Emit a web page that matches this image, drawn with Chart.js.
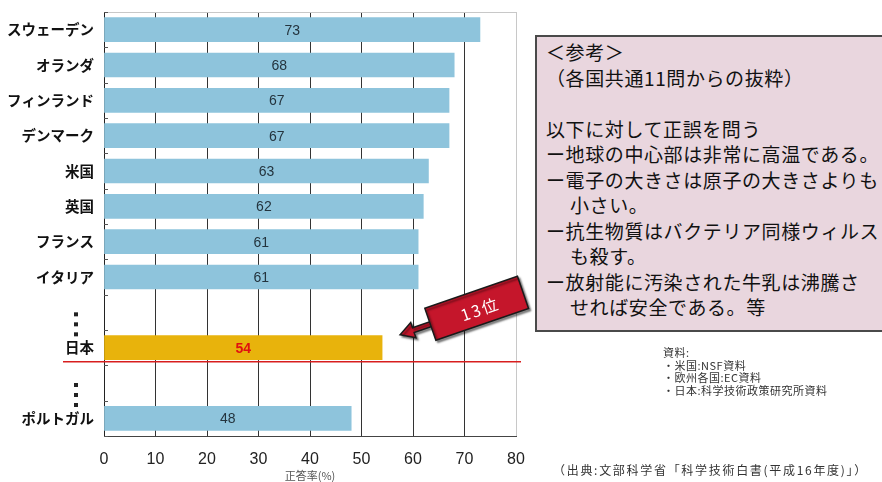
<!DOCTYPE html>
<html lang="ja">
<head>
<meta charset="utf-8">
<script src="https://cdn.jsdelivr.net/npm/chart.js@4.4.1/dist/chart.umd.min.js"></script>
<style>
 body { margin:0; width:882px; height:482px; overflow:hidden; background:#fff; font-family:"Noto Sans CJK JP", sans-serif; position:relative; }
 #chart { position:absolute; left:0; top:0; }
 #note { position:absolute; left:535px; top:35px; width:360px; height:297px; box-sizing:border-box; background:#e9d6de; border:2px solid #4a4a4a; padding-top:2px; padding-left:9px; font-size:19px; line-height:25.5px; letter-spacing:0.6px; color:#111; white-space:nowrap; }
 #note .ind { padding-left:24px; }
 #src { position:absolute; left:663px; top:346px; font-size:11px; line-height:12.5px; letter-spacing:0.5px; color:#333; white-space:nowrap; }
 #cite { position:absolute; left:553px; top:462px; font-size:12px; line-height:16px; letter-spacing:1.7px; color:#333; white-space:nowrap; }
</style>
</head>
<body>
<canvas id="chart" width="882" height="482"></canvas>
<div id="note">
 <div>＜参考＞</div>
 <div>（各国共通11問からの抜粋）</div>
 <div>&nbsp;</div>
 <div>以下に対して正誤を問う</div>
 <div>ー地球の中心部は非常に高温である。</div>
 <div>ー電子の大きさは原子の大きさよりも</div>
 <div class="ind">小さい。</div>
 <div>ー抗生物質はバクテリア同様ウィルス</div>
 <div class="ind">も殺す。</div>
 <div>ー放射能に汚染された牛乳は沸騰さ</div>
 <div class="ind">せれば安全である。等</div>
</div>
<div id="src">
 <div>資料:</div>
 <div>・米国:NSF資料</div>
 <div>・欧州各国:EC資料</div>
 <div>・日本:科学技術政策研究所資料</div>
</div>
<div id="cite">（出典:文部科学省「科学技術白書(平成16年度)」）</div>
<script>
const countries = ["スウェーデン", "オランダ", "フィンランド", "デンマーク", "米国", "英国", "フランス", "イタリア", "", "日本", "", "ポルトガル"];
const rates = [73, 68, 67, 67, 63, 62, 61, 61, null, 54, null, 48];
const gapRows = [8, 10];
const japanRow = 9;
const xTicks = [0, 10, 20, 30, 40, 50, 60, 70, 80];
const axisTitle = "正答率(%)";
const rankText = "13位";

const blue = "#8ec4dc";
const gold = "#e8b30c";
const numFont = "'Liberation Sans Narrow', 'Liberation Sans', Arial, sans-serif";

const decor = {
 id: "decor",
 afterDatasetsDraw(chart) {
 const ctx = chart.ctx;
 const area = chart.chartArea;
 const x = chart.scales.x;
 const y = chart.scales.y;
 const band = y.getPixelForValue(1) - y.getPixelForValue(0);
 ctx.save();
 // top frame
 ctx.strokeStyle = "#c8c8c8";
 ctx.lineWidth = 1;
 ctx.beginPath();
 ctx.moveTo(area.left, area.top + 0.5);
 ctx.lineTo(area.right, area.top + 0.5);
 ctx.stroke();
 // small tick marks on the category axis
 ctx.strokeStyle = "#555";
 for (let i = 0; i <= countries.length; i++) {
 const py = Math.round(y.getPixelForValue(i) - band / 2) + 0.5;
 ctx.beginPath();
 ctx.moveTo(area.left, py);
 ctx.lineTo(area.left + 4, py);
 ctx.stroke();
 }
 // value labels
 const meta = chart.getDatasetMeta(0);
 ctx.textAlign = "center";
 ctx.textBaseline = "middle";
 meta.data.forEach((bar, i) => {
 if (rates[i] == null) return;
 const jp = i === japanRow;
 ctx.fillStyle = jp ? "#e01010" : "#24343e";
 ctx.font = (jp ? "bold " : "") + "14px " + numFont;
 ctx.fillText(String(rates[i]), (bar.x + bar.base) / 2, bar.y + 1);
 });
 // vertical dots for skipped ranks
 ctx.fillStyle = "#222";
 gapRows.forEach(r => {
 const cy = y.getPixelForValue(r);
 [2, 12, 22].forEach(o => ctx.fillRect(74, cy + o - 2, 4, 4));
 });
 // red line under Japan
 const jy = y.getPixelForValue(japanRow) + 14;
 ctx.strokeStyle = "#d81e1e";
 ctx.lineWidth = 1.5;
 ctx.beginPath();
 ctx.moveTo(63, jy);
 ctx.lineTo(521, jy);
 ctx.stroke();
 // rank callout arrow
 const tipX = x.getPixelForValue(rates[japanRow]) + 18;
 const tipY = y.getPixelForValue(japanRow) - 13;
 ctx.translate(tipX, tipY);
 ctx.rotate(-19 * Math.PI / 180);
 ctx.shadowColor = "rgba(0,0,0,0.45)";
 ctx.shadowOffsetX = 2;
 ctx.shadowOffsetY = 2;
 ctx.shadowBlur = 2;
 ctx.fillStyle = "#c5162b";
 ctx.strokeStyle = "#1a1a1a";
 ctx.lineWidth = 1.5;
 ctx.beginPath();
 ctx.moveTo(0, 0);
 ctx.lineTo(14, -8);
 ctx.lineTo(14, -2.5);
 ctx.lineTo(34, -2.5);
 ctx.lineTo(34, 2.5);
 ctx.lineTo(14, 2.5);
 ctx.lineTo(14, 8);
 ctx.closePath();
 ctx.fill();
 ctx.stroke();
 ctx.beginPath();
 ctx.rect(32, -17, 98, 34);
 ctx.fill();
 ctx.stroke();
 ctx.shadowColor = "transparent";
 ctx.fillStyle = "#fff";
 ctx.font = "16px 'Noto Sans CJK JP', sans-serif";
 ctx.letterSpacing = "2px";
 ctx.fillText(rankText, 84, 2);
 ctx.restore();
 }
};

new Chart(document.getElementById("chart").getContext("2d"), {
 type: "bar",
 data: {
 labels: countries,
 datasets: [{
 data: rates,
 backgroundColor: countries.map((c, i) => i === japanRow ? gold : blue),
 barThickness: 24,
 borderWidth: 0
 }]
 },
 options: {
 indexAxis: "y",
 responsive: false,
 animation: false,
 layout: { padding: { top: 12, right: 366, bottom: 0, left: 0 } },
 plugins: { legend: { display: false }, tooltip: { enabled: false } },
 scales: {
 x: {
 min: 0,
 max: 80,
 afterBuildTicks: s => { s.ticks = xTicks.map(v => ({ value: v })); },
 afterFit: s => { s.height = 46; },
 grid: {
 drawTicks: false,
 color: c => c.tick && c.tick.value === 80 ? "#c8c8c8" : "#333",
 lineWidth: 1
 },
 border: { color: "#444", width: 1 },
 ticks: { padding: 14, color: "#222", font: { size: 16, family: numFont } },
 title: { display: true, text: axisTitle, color: "#555", font: { size: 11, family: "'Noto Sans CJK JP', sans-serif" }, padding: { top: 0, bottom: 0 } }
 },
 y: {
 afterFit: s => { s.width = 104; },
 grid: { display: false },
 border: { display: true, color: "#222", width: 1 },
 ticks: { padding: 2, color: "#111", font: { size: 14.5, weight: "bold", family: "'Noto Sans CJK JP', sans-serif" } }
 }
 }
 },
 plugins: [decor]
});
</script>
</body>
</html>
